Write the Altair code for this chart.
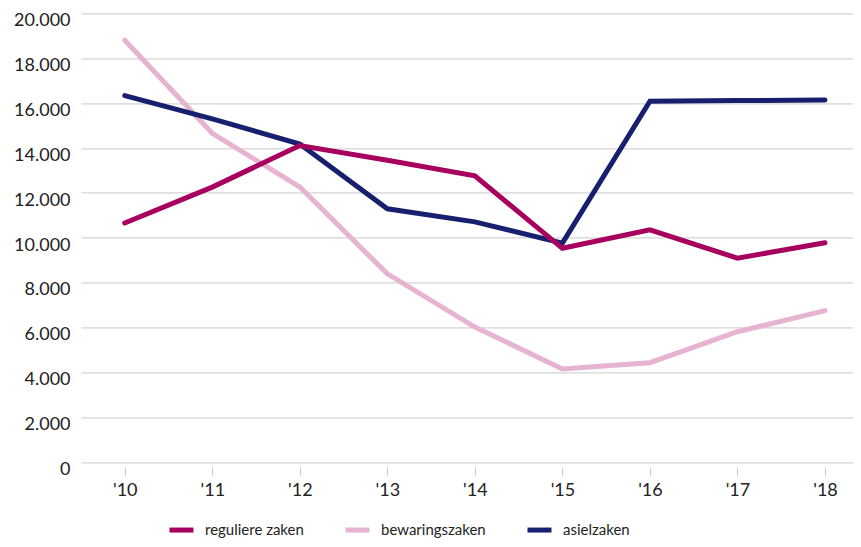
import altair as alt
import pandas as pd

years = [2010, 2011, 2012, 2013, 2014, 2015, 2016, 2017, 2018]
series_names = ["reguliere zaken", "bewaringszaken", "asielzaken"]
series_colors = ["#A8005F", "#E6B3D1", "#17206E"]

reguliere = [10650, 12250, 14100, 13450, 12750, 9520, 10340, 9080, 9770]
bewaring = [18800, 14650, 12250, 8380, 6010, 4140, 4420, 5800, 6740]
asiel = [16330, 15290, 14170, 11280, 10700, 9750, 16080, 16110, 16130]

y_ticks = [0, 2000, 4000, 6000, 8000, 10000, 12000, 14000, 16000, 18000, 20000]

# draw order: pink first, then navy, then magenta on top
rows = []
for name, vals in [("bewaringszaken", bewaring), ("asielzaken", asiel), ("reguliere zaken", reguliere)]:
    for yr, v in zip(years, vals):
        rows.append({"jaar": yr, "aantal": v, "reeks": name})
df = pd.DataFrame(rows)

FONT = "Lato"
TXT = "#222222"

chart = alt.Chart(df).mark_line(strokeWidth=5, strokeCap="round").encode(
    x=alt.X(
        "jaar:Q",
        scale=alt.Scale(domain=[2009.5, 2018.32], nice=False, zero=False),
        axis=alt.Axis(
            title=None,
            values=years,
            labelExpr="\"'\" + substring(toString(datum.value), 2)",
            grid=False,
            domain=False,
            ticks=True,
            tickSize=9,
            tickColor="#cccccc",
            tickWidth=1,
            offset=5,
            labelPadding=6,
            labelFont=FONT,
            labelFontSize=18,
            labelColor=TXT,
            labelFlush=False,
        ),
    ),
    y=alt.Y(
        "aantal:Q",
        scale=alt.Scale(domain=[0, 20000], nice=False),
        axis=alt.Axis(
            title=None,
            values=y_ticks,
            labelExpr="replace(format(datum.value, ','), ',', '.')",
            grid=True,
            gridColor="#d4d4d4",
            gridWidth=1.2,
            domain=False,
            ticks=False,
            labelPadding=11,
            labelOffset=7.5,
            labelFont=FONT,
            labelFontSize=18,
            labelColor=TXT,
        ),
    ),
    color=alt.Color(
        "reeks:N",
        scale=alt.Scale(domain=series_names, range=series_colors),
        legend=alt.Legend(
            title=None,
            orient="none",
            direction="horizontal",
            legendX=86,
            legendY=502,
            padding=0,
            symbolType="stroke",
            symbolStrokeWidth=5,
            symbolSize=576,
            labelOffset=9,
            columnPadding=31,
            labelFont=FONT,
            labelFontSize=15,
            labelColor=TXT,
        ),
    ),
).properties(
    width=772,
    height=448.5,
    autosize=alt.AutoSizeParams(type="none"),
    padding={"left": 73, "top": 5.3, "right": 0, "bottom": 77},
).configure_view(stroke=None)

chart.save("out.html", embed_options={"renderer": "svg", "actions": False})
